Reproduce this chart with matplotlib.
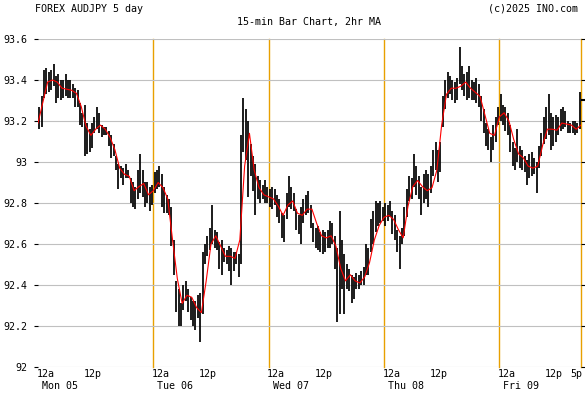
import matplotlib.pyplot as plt
import numpy as np

plt.rcParams['font.family'] = ['DejaVu Sans Mono']

# 30-min bar highs / lows (AUDJPY, Mon 05 12a -> Fri 09 5p)
mon_hi = [93.27, 93.32, 93.45, 93.46, 93.44, 93.45, 93.48, 93.42, 93.43, 93.40, 93.40, 93.43,
          93.40, 93.40, 93.38, 93.36, 93.35, 93.29, 93.24, 93.28, 93.19, 93.16, 93.19, 93.22,
          93.27, 93.24, 93.18, 93.17, 93.17, 93.15, 93.13, 93.09, 93.03, 92.99, 92.98, 92.97,
          92.99, 92.96, 92.92, 92.90, 92.88, 92.96, 93.04, 92.96, 92.90, 92.90, 92.88, 92.89]
mon_lo = [93.16, 93.17, 93.31, 93.33, 93.34, 93.35, 93.37, 93.29, 93.31, 93.30, 93.31, 93.32,
          93.31, 93.31, 93.31, 93.27, 93.27, 93.18, 93.17, 93.03, 93.04, 93.05, 93.07, 93.14,
          93.16, 93.14, 93.12, 93.13, 93.13, 93.08, 93.02, 93.03, 92.96, 92.87, 92.92, 92.89,
          92.92, 92.92, 92.80, 92.78, 92.77, 92.82, 92.85, 92.83, 92.78, 92.80, 92.76, 92.79]

tue_hi = [92.95, 92.96, 92.98, 92.94, 92.88, 92.84, 92.82, 92.78, 92.62, 92.42, 92.38, 92.31,
          92.40, 92.42, 92.38, 92.34, 92.32, 92.32, 92.35, 92.36, 92.56, 92.60, 92.64, 92.68,
          92.79, 92.67, 92.66, 92.61, 92.62, 92.58, 92.57, 92.59, 92.58, 92.56, 92.56, 92.55,
          93.13, 93.31, 93.26, 93.20, 93.09, 93.03, 92.99, 92.93, 92.91, 92.89, 92.91, 92.88]
tue_lo = [92.85, 92.87, 92.88, 92.78, 92.75, 92.75, 92.74, 92.59, 92.45, 92.27, 92.20, 92.20,
          92.28, 92.32, 92.27, 92.23, 92.20, 92.18, 92.24, 92.12, 92.26, 92.50, 92.54, 92.57,
          92.60, 92.58, 92.57, 92.48, 92.45, 92.51, 92.50, 92.47, 92.40, 92.47, 92.50, 92.44,
          92.50, 93.05, 93.01, 92.83, 92.93, 92.86, 92.74, 92.82, 92.80, 92.82, 92.80, 92.80]

wed_hi = [92.87, 92.88, 92.87, 92.84, 92.82, 92.75, 92.74, 92.85, 92.93, 92.88, 92.85, 92.77,
          92.74, 92.78, 92.82, 92.84, 92.86, 92.79, 92.70, 92.68, 92.69, 92.66, 92.67, 92.66,
          92.67, 92.71, 92.70, 92.64, 92.58, 92.76, 92.62, 92.55, 92.50, 92.48, 92.45, 92.44,
          92.46, 92.45, 92.47, 92.49, 92.60, 92.58, 92.72, 92.76, 92.81, 92.80, 92.81, 92.78]
wed_lo = [92.78, 92.77, 92.79, 92.73, 92.70, 92.63, 92.61, 92.72, 92.78, 92.77, 92.76, 92.67,
          92.65, 92.60, 92.70, 92.74, 92.75, 92.68, 92.61, 92.58, 92.57, 92.56, 92.55, 92.56,
          92.58, 92.58, 92.60, 92.48, 92.22, 92.26, 92.38, 92.26, 92.38, 92.37, 92.31, 92.33,
          92.38, 92.38, 92.40, 92.40, 92.45, 92.45, 92.56, 92.60, 92.66, 92.69, 92.70, 92.71]

thu_hi = [92.80, 92.79, 92.81, 92.76, 92.74, 92.67, 92.64, 92.68, 92.78, 92.87, 92.93, 92.92,
          93.04, 92.98, 92.93, 92.88, 92.94, 92.96, 92.94, 92.98, 93.06, 93.10, 93.06, 93.10,
          93.32, 93.40, 93.44, 93.42, 93.40, 93.39, 93.41, 93.56, 93.47, 93.43, 93.44, 93.47,
          93.40, 93.39, 93.41, 93.38, 93.32, 93.26, 93.19, 93.16, 93.12, 93.18, 93.22, 93.27]
thu_lo = [92.69, 92.71, 92.73, 92.65, 92.62, 92.56, 92.48, 92.60, 92.64, 92.73, 92.81, 92.82,
          92.88, 92.84, 92.82, 92.74, 92.80, 92.82, 92.78, 92.85, 92.93, 92.96, 92.90, 92.95,
          93.17, 93.26, 93.31, 93.33, 93.30, 93.29, 93.30, 93.38, 93.35, 93.32, 93.30, 93.31,
          93.30, 93.30, 93.29, 93.27, 93.20, 93.14, 93.08, 93.06, 93.00, 93.06, 93.10, 93.18]

fri_hi = [93.33, 93.28, 93.27, 93.24, 93.18, 93.10, 93.07, 93.16, 93.08, 93.06, 93.03, 93.01,
          93.04, 93.05, 93.02, 93.00, 93.08, 93.14, 93.22, 93.27, 93.33, 93.24, 93.22, 93.23,
          93.22, 93.26, 93.27, 93.25, 93.20, 93.19, 93.20, 93.20, 93.19, 93.34]
fri_lo = [93.20, 93.18, 93.15, 93.13, 93.05, 92.98, 92.96, 93.00, 92.97, 92.96, 92.95, 92.89,
          92.92, 92.93, 92.94, 92.85, 92.97, 93.03, 93.09, 93.11, 93.13, 93.06, 93.08, 93.10,
          93.13, 93.15, 93.16, 93.17, 93.14, 93.14, 93.14, 93.13, 93.14, 93.16]

# 2hr moving average, hourly readings
mon_ma = [93.19, 93.29, 93.39, 93.40, 93.39, 93.36, 93.355, 93.35, 93.335, 93.27, 93.175, 93.13,
          93.16, 93.18, 93.16, 93.12, 93.06, 92.97, 92.94, 92.93, 92.86, 92.88, 92.895, 92.84]
tue_ma = [92.86, 92.90, 92.875, 92.82, 92.62, 92.43, 92.31, 92.35, 92.34, 92.29, 92.265, 92.42,
          92.60, 92.64, 92.59, 92.54, 92.54, 92.53, 92.62, 92.98, 93.14, 92.96, 92.875, 92.84]
wed_ma = [92.83, 92.82, 92.785, 92.74, 92.79, 92.81, 92.75, 92.74, 92.77, 92.77, 92.70, 92.64,
          92.63, 92.64, 92.59, 92.48, 92.42, 92.45, 92.42, 92.41, 92.44, 92.51, 92.62, 92.69]
thu_ma = [92.73, 92.74, 92.72, 92.67, 92.63, 92.785, 92.88, 92.91, 92.88, 92.86, 92.875, 92.96,
          93.18, 93.33, 93.36, 93.36, 93.37, 93.39, 93.36, 93.34, 93.32, 93.23, 93.14, 93.13]
fri_ma = [93.22, 93.24, 93.20, 93.11, 93.04, 93.02, 92.98, 92.97, 92.98, 93.08, 93.16, 93.16,
          93.155, 93.19, 93.185, 93.18, 93.16, 93.18]
last_close = 93.30

yticks = [92.0, 92.2, 92.4, 92.6, 92.8, 93.0, 93.2, 93.4, 93.6]
ytick_labels = ['92', '92.2', '92.4', '92.6', '92.8', '93', '93.2', '93.4', '93.6']
day_starts = [0, 24, 48, 72, 96]   # hours since Mon 12a
day_names = ['Mon 05', 'Tue 06', 'Wed 07', 'Thu 08', 'Fri 09']
end_hour = 113

hi = mon_hi + tue_hi + wed_hi + thu_hi + fri_hi
lo = mon_lo + tue_lo + wed_lo + thu_lo + fri_lo
bar_t = np.arange(len(hi)) * 0.5 + 0.25
ma = mon_ma + tue_ma + wed_ma + thu_ma + fri_ma
ma_t = np.arange(len(ma))

fig = plt.figure(figsize=(5.85, 3.94), dpi=100)
ax = fig.add_axes([38 / 585, 27 / 394, 543 / 585, 328 / 394])

ax.set_xlim(0, end_hour)
ax.set_ylim(92.0, 93.6)
ax.set_yticks(yticks)
ax.set_yticklabels(ytick_labels, fontsize=7.2)
ax.set_xticks([])
ax.grid(axis='y', color='#c0c0c0', linewidth=0.8, zorder=0)
for s in ax.spines.values():
    s.set_visible(False)
ax.tick_params(axis='y', left=True, right=True, labelright=False, direction='out',
               length=3, width=0.8, pad=5, colors='black')

for d in day_starts[1:] + [end_hour]:
    ax.axvline(d, color='#e8a000', linewidth=1.0, zorder=1, clip_on=False)

ax.vlines(bar_t, lo, hi, color='black', linewidth=1.25, zorder=2)
ax.plot(ma_t, ma, color='red', linewidth=0.8, zorder=3)
ax.hlines(last_close, end_hour, end_hour + 0.8, color='black', linewidth=1.5, clip_on=False)

# x labels
for d, name in zip(day_starts, day_names):
    ax.annotate('12a', (d, 0), xycoords=('data', 'axes fraction'), xytext=(-1, -5),
                textcoords='offset points', ha='left', va='center', fontsize=7.2)
    ax.annotate(name, (d, 0), xycoords=('data', 'axes fraction'), xytext=(3, -14),
                textcoords='offset points', ha='left', va='center', fontsize=7.2)
for d in day_starts:
    ax.annotate('12p', (d + 12, 0), xycoords=('data', 'axes fraction'), xytext=(-2, -5),
                textcoords='offset points', ha='center', va='center', fontsize=7.2)
ax.annotate('5p', (end_hour, 0), xycoords=('data', 'axes fraction'), xytext=(1, -5),
            textcoords='offset points', ha='right', va='center', fontsize=7.2)

fig.text(35 / 585, 1 - 9 / 394, 'FOREX AUDJPY 5 day', ha='left', va='center', fontsize=7.2)
fig.text(309 / 585, 1 - 21.5 / 394, '15-min Bar Chart, 2hr MA', ha='center', va='center', fontsize=7.2)
fig.text(578 / 585, 1 - 8.5 / 394, '(c)2025 INO.com', ha='right', va='center', fontsize=7.2)

fig.savefig('out.png', dpi=100)
